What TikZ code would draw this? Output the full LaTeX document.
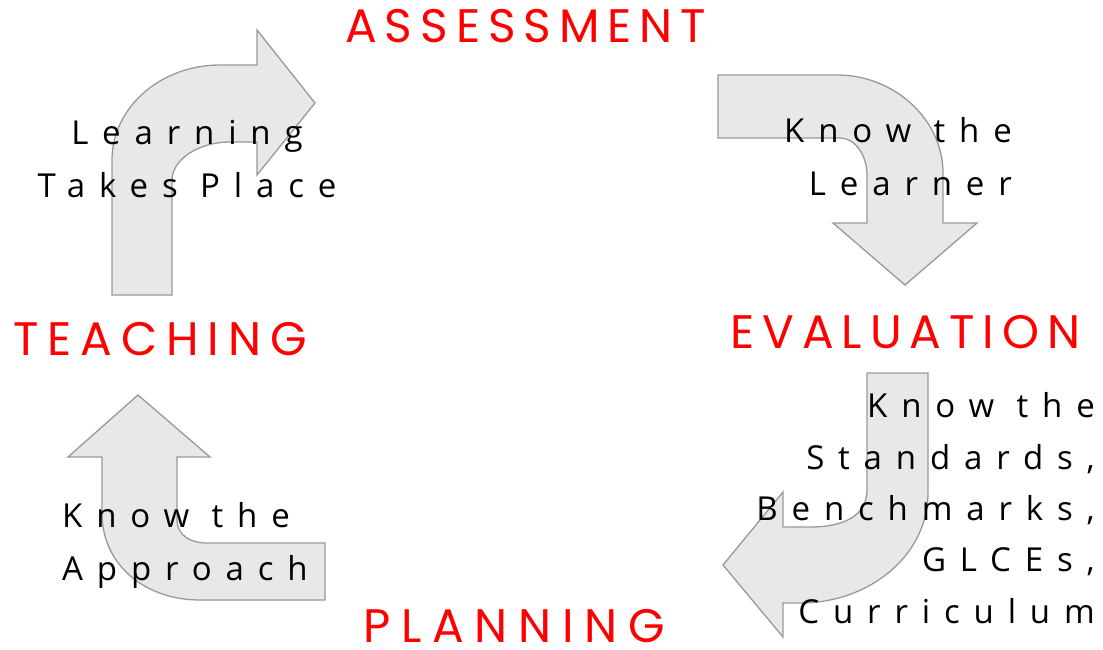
\documentclass[tikz,border=0pt]{standalone}
\usepackage{fontspec}
\newfontfamily\capsfont[LetterSpace=17]{Poppins}
\newfontfamily\handfont[LetterSpace=42]{Open Sans}
\usetikzlibrary{calc}
\begin{document}
\begin{tikzpicture}[%
  x=1pt,y=-1pt,
  turnarrow/.style={draw=black!40,line width=1.3pt,fill=black!9,line join=miter},
  stage/.style={text=red,font=\capsfont\fontsize{47}{47}\selectfont,inner sep=0pt},
  hint/.style={font=\handfont\fontsize{33}{53}\selectfont,inner sep=0pt}]
    \useasboundingbox (0,0) rectangle (1103,650);
    % Bent arrows
    \draw[turnarrow] (112,295) -- (112,160) .. controls (112,108) and (160,65) .. (220,65)
      -- (257,65) -- (257,30) -- (315,103) -- (257,175) -- (257,142) -- (230,142)
      .. controls (198,142) and (172,160) .. (172,180) -- (172,295) -- cycle;
    \draw[turnarrow] (718,75) -- (837,75) .. controls (895,75) and (943,120) .. (943,173)
      -- (943,223) -- (977,223) -- (905,285) -- (833,223) -- (867,223) -- (867,175)
      .. controls (867,155) and (855,138) .. (840,138) -- (718,138) -- cycle;
    \draw[turnarrow] (867,373) -- (928,373) -- (928,493) .. controls (928,555) and (870,603) .. (800,603)
      -- (783,603) -- (783,637) -- (723,565) -- (783,492) -- (783,527) -- (810,527)
      .. controls (845,527) and (867,515) .. (867,490) -- cycle;
    \draw[turnarrow] (325,543) -- (325,600) -- (200,600) .. controls (145,600) and (102,565) .. (102,513)
      -- (102,457) -- (68,457) -- (138,395) -- (210,457) -- (177,457) -- (177,520)
      .. controls (177,535) and (190,543) .. (207,543) -- cycle;
    % Stages
    \node[stage,anchor=base west] (assessment) at (345,43) {ASSESSMENT};
    \node[stage,anchor=base west] (teaching) at (13,355) {\addfontfeature{LetterSpace=19}TEACHING};
    \node[stage,anchor=base west] (evaluation) at (730,348) {EVALUATION};
    \node[stage,anchor=base west] (planning) at (363,642) {\addfontfeature{LetterSpace=23}PLANNING};
    % Hints (base = last line)
    \node[hint,align=center,anchor=base] (learning) at (187,197) {Learning\\Takes Place};
    \node[hint,align=right,anchor=base east] (learner) at (1012,195) {Know the\\Learner};
    \node[hint,align=right,anchor=base east,font=\handfont\fontsize{33}{51.3}\selectfont]
      (standards) at (1095,623) {Know the\\Standards,\\Benchmarks,\\GLCEs,\\Curriculum};
    \node[hint,align=left,anchor=base west] (approach) at (62,580) {Know the\\Approach};
\end{tikzpicture}
\end{document}
